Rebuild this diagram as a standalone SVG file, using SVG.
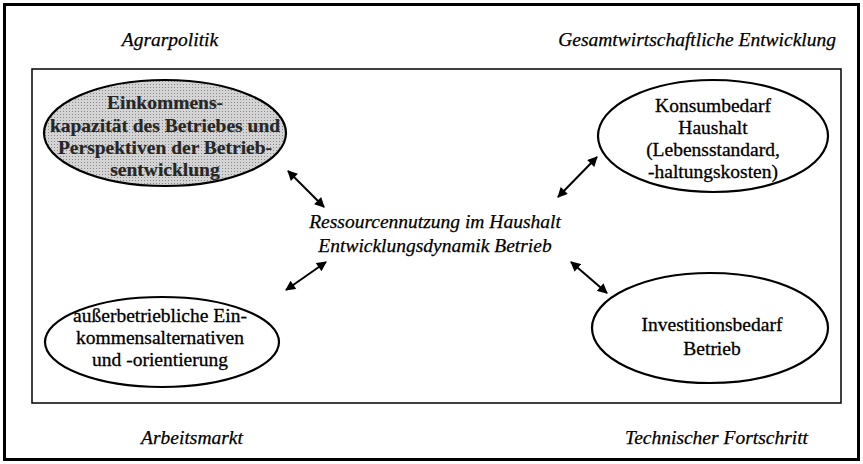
<svg xmlns="http://www.w3.org/2000/svg" width="863" height="464" viewBox="0 0 863 464">
<defs>
<marker id="ah" viewBox="0 0 10 10" refX="9" refY="5" markerWidth="5.5" markerHeight="5" orient="auto-start-reverse" markerUnits="strokeWidth">
<path d="M0,0 L10,5 L0,10 z" fill="#000"/>
</marker>
<pattern id="dots" width="3" height="3" patternUnits="userSpaceOnUse">
<rect width="3" height="3" fill="#d4d4d4"/>
<rect width="1" height="1" fill="#8a8a8a"/>
</pattern>
</defs>
<style>
.lbl{font-family:"Liberation Serif","Times New Roman",serif;font-style:italic;font-size:19.5px;fill:#000;stroke:#000;stroke-width:0.25}
.nt{font-family:"Liberation Serif","Times New Roman",serif;font-size:19.5px;fill:#000;text-anchor:middle;stroke:#000;stroke-width:0.3}
.b{font-weight:bold;fill:#262626;stroke:#262626;stroke-width:0.2}
.el{fill:#fff;stroke:#000;stroke-width:2.2}
.con{stroke:#000;stroke-width:2;fill:none;marker-start:url(#ah);marker-end:url(#ah)}
</style>
<rect x="0" y="0" width="863" height="464" fill="#fff"/>
<rect x="4.5" y="4.5" width="854" height="455" fill="none" stroke="#000" stroke-width="3"/>
<rect x="32" y="69" width="809" height="334" fill="none" stroke="#000" stroke-width="1.5"/>
<g id="labels">
<text class="lbl" x="170" y="46" text-anchor="middle">Agrarpolitik</text>
<text class="lbl" x="836" y="46" text-anchor="end">Gesamtwirtschaftliche Entwicklung</text>
<text class="lbl" x="192" y="444" text-anchor="middle">Arbeitsmarkt</text>
<text class="lbl" x="808" y="444" text-anchor="end">Technischer Fortschritt</text>
</g>
<g id="center">
<text class="lbl" x="435" y="228" text-anchor="middle">Ressourcennutzung im Haushalt</text>
<text class="lbl" x="435" y="252" text-anchor="middle">Entwicklungsdynamik Betrieb</text>
</g>
<g id="einkommen">
<ellipse cx="165" cy="133" rx="121" ry="53" fill="url(#dots)" stroke="#000" stroke-width="2.2"/>
<text class="nt b" x="165" y="109">Einkommens-</text>
<text class="nt b" x="165" y="132">kapazität des Betriebes und</text>
<text class="nt b" x="165" y="154">Perspektiven der Betrieb-</text>
<text class="nt b" x="165" y="176">sentwicklung</text>
</g>
<g id="konsum">
<ellipse class="el" cx="713" cy="136" rx="115" ry="56"/>
<text class="nt" x="713" y="112">Konsumbedarf</text>
<text class="nt" x="713" y="134">Haushalt</text>
<text class="nt" x="713" y="156">(Lebensstandard,</text>
<text class="nt" x="713" y="178">-haltungskosten)</text>
</g>
<g id="ausser">
<ellipse class="el" cx="162" cy="342" rx="117" ry="45"/>
<text class="nt" x="160" y="322">außerbetriebliche Ein-</text>
<text class="nt" x="160" y="344">kommensalternativen</text>
<text class="nt" x="160" y="366">und -orientierung</text>
</g>
<g id="invest">
<ellipse class="el" cx="710" cy="328" rx="118" ry="55"/>
<text class="nt" x="712" y="331">Investitionsbedarf</text>
<text class="nt" x="712" y="355">Betrieb</text>
</g>
<g id="connectors">
<line class="con" x1="288" y1="171" x2="324" y2="207"/>
<line class="con" x1="558" y1="197" x2="597" y2="157"/>
<line class="con" x1="286" y1="290" x2="326" y2="262"/>
<line class="con" x1="571" y1="262" x2="607" y2="293"/>
</g>
</svg>
